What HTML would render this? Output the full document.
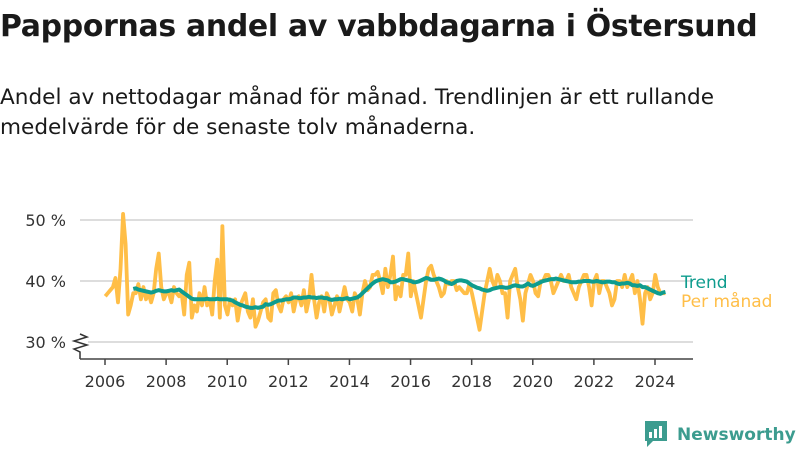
<!DOCTYPE html>
<html><head><meta charset="utf-8">
<style>
body{margin:0;background:#fff;width:800px;height:450px;overflow:hidden;font-family:"Liberation Sans","DejaVu Sans",sans-serif;color:#1a1a1a}
h1{position:absolute;left:0;top:9px;margin:0;font-size:29.9px;font-weight:bold;font-family:"DejaVu Sans","Liberation Sans",sans-serif;letter-spacing:-0.3px}
.sub{position:absolute;left:0;top:83px;font-size:21.6px;line-height:30px;font-family:"DejaVu Sans","Liberation Sans",sans-serif}
svg{position:absolute;left:0;top:0}
</style></head><body>
<h1>Pappornas andel av vabbdagarna i Östersund</h1>
<div class="sub">Andel av nettodagar månad för månad. Trendlinjen är ett rullande<br>medelvärde för de senaste tolv månaderna.</div>
<svg id="chart" width="800" height="450"></svg>
<script>
const yTicks=[30,40,50];
const yTickLabels=["30 %","40 %","50 %"];
const xTicks=[2006,2008,2010,2012,2014,2016,2018,2020,2022,2024];
const monthly=[
37.5,38,38.5,39,40.5,36.5,42,51,46,34.5,36,38,
38,39.5,37,39,37,38,36.5,38,42,44.5,39,37,
38,38,36.5,39,38,37.5,38,34.5,41,43,34,36,
35,38,36,39,36,37,34.5,40,43.5,34,49,36,
34.5,37,36,37,33.5,36,37,38,35,34,37,32.5,
33.5,35,36.5,37,34,33.5,38,38.5,36,35,37,37.5,
36.5,38,35,37,37.5,36,38.5,35,37,41,37,34,
36.5,37.5,35,38,37,34.5,36,37.5,35,37,39,37,
36.5,35,38,37,34.5,38,40,38.5,39,41,41,41.5,
40,38,42,39,41,44,37,39,37.5,41,41,44.5,
37.5,40,38,36,34,37,40,42,42.5,41,40,39,
37.5,38,40,39.5,40,40,38.5,39,38.5,38,38,39.5,
38,36,34,32,35,38,40,42,40,39,41,40,
38,38,34,40,41,42,39,37,33.5,38,39.5,41,
40,38,37.5,40,40,41,41,40,38,39,40,41,
40,40,41,39,38,37,39,40,41,41,39,36,
40,41,38,40,40,39,38,36,37,40,40,39,
41,39,40,41,38,40,37,33,38,39,37,38,
41,39,38,38,38];
const trendStart=11;
const trend=[38.7,
38.8,38.6,38.5,38.4,38.3,38.2,38.1,38.2,38.4,38.5,38.4,38.3,
38.3,38.4,38.5,38.4,38.5,38.6,38.3,38.0,37.7,37.4,37.1,37.0,
37.0,37.0,37.0,37.0,37.1,37.0,37.0,37.0,37.1,37.0,37.0,37.0,
37.0,36.9,36.8,36.5,36.3,36.1,36.0,35.8,35.7,35.6,35.6,35.7,
35.6,35.7,35.8,36.2,36.1,36.2,36.4,36.6,36.8,36.8,36.9,37.0,
37.0,37.1,37.3,37.3,37.2,37.2,37.3,37.3,37.4,37.3,37.3,37.2,
37.3,37.3,37.2,37.2,37.0,36.9,37.0,37.0,37.1,37.0,37.1,37.2,
37.0,37.1,37.2,37.3,37.6,38.0,38.4,38.8,39.2,39.6,39.9,40.1,
40.2,40.3,40.2,40.1,39.8,39.8,39.9,40.1,40.3,40.3,40.2,40.1,
40.0,39.8,39.8,39.9,40.1,40.3,40.5,40.4,40.2,40.2,40.3,40.4,
40.3,40.1,39.8,39.7,39.5,39.7,40.0,40.1,40.1,40.0,39.9,39.6,
39.3,39.1,38.9,38.8,38.6,38.5,38.4,38.5,38.7,38.8,38.9,39.0,
39.0,38.9,38.9,39.0,39.2,39.3,39.2,39.1,39.1,39.3,39.6,39.3,
39.2,39.4,39.6,39.8,40.0,40.1,40.2,40.3,40.3,40.4,40.3,40.2,
40.1,40.0,39.9,39.8,39.8,39.8,39.9,39.9,40.0,40.0,40.0,39.9,
39.9,40.0,39.9,39.8,39.8,39.9,39.9,39.8,39.8,39.6,39.5,39.6,
39.6,39.7,39.6,39.3,39.3,39.2,39.3,39.0,39.0,38.8,38.6,38.4,
38.2,38.0,37.9,38.1,38.2];

const NS="http://www.w3.org/2000/svg";
const svg=document.getElementById('chart');
const x=t=>105+(t-2006)*(550/18);
const y=v=>281-(v-40)*6.1;
const mx=i=>x(2006+(i+0.1)/12);
function mk(tag,attrs,parent){const e=document.createElementNS(NS,tag);for(const k in attrs)e.setAttribute(k,attrs[k]);(parent||svg).appendChild(e);return e;}

yTicks.forEach((t,i)=>{
  const g=mk('line',{x1:t===30?88:80,x2:693,y1:y(t),y2:y(t),stroke:'#dddddd','stroke-width':2});
  
  
  const l=mk('text',{x:66,y:y(t)+6,'text-anchor':'end','font-size':16,fill:'#333','font-family':'DejaVu Sans, Liberation Sans, sans-serif'});
  l.textContent=yTickLabels[i];
  
  
});
const br=mk('path',{d:'M80 334 L87 337 L74 341 L87 345 L74 349 L80 352 L80 359',fill:'none',stroke:'#333','stroke-width':1.5});


const ax=mk('line',{x1:80,x2:693,y1:359,y2:359,stroke:'#444','stroke-width':1.5});


xTicks.forEach(t=>{
  const tk=mk('line',{x1:x(t),x2:x(t),y1:359,y2:365,stroke:'#444','stroke-width':1.5});
  
  
  const l=mk('text',{x:x(t),y:387,'text-anchor':'middle','font-size':16,fill:'#333','font-family':'DejaVu Sans, Liberation Sans, sans-serif'});
  l.textContent=t;
  
  
});
const mp=mk('polyline',{points:monthly.map((v,i)=>mx(i)+','+y(v)).join(' '),fill:'none',stroke:'#ffbe47','stroke-width':3.8,'stroke-linejoin':'round'});


const tp=mk('polyline',{points:trend.map((v,i)=>mx(i+trendStart)+','+y(v)).join(' '),fill:'none',stroke:'#0e9c8e','stroke-width':4,'stroke-linejoin':'round'});


const l1=mk('text',{x:681,y:288,'font-size':17,fill:'#0e9c8e','font-family':'DejaVu Sans, Liberation Sans, sans-serif'});
l1.textContent='Trend';


const l2=mk('text',{x:681,y:307,'font-size':17,fill:'#ffbe47','font-family':'DejaVu Sans, Liberation Sans, sans-serif'});
l2.textContent='Per månad';


const lg=mk('g',{});


mk('path',{d:'M645 421 h22 v20 h-14 l-6 6 v-6 h-2 z',fill:'#3c9c8f'},lg);
mk('rect',{x:649,y:432,width:3,height:6,fill:'#fff'},lg);
mk('rect',{x:654,y:429,width:3,height:9,fill:'#fff'},lg);
mk('rect',{x:659,y:426,width:3,height:12,fill:'#fff'},lg);
const lt=mk('text',{x:677,y:440,'font-size':17,'font-weight':'bold',fill:'#3c9c8f','font-family':'DejaVu Sans, Liberation Sans, sans-serif'},lg);
lt.textContent='Newsworthy';
</script>
</body></html>
